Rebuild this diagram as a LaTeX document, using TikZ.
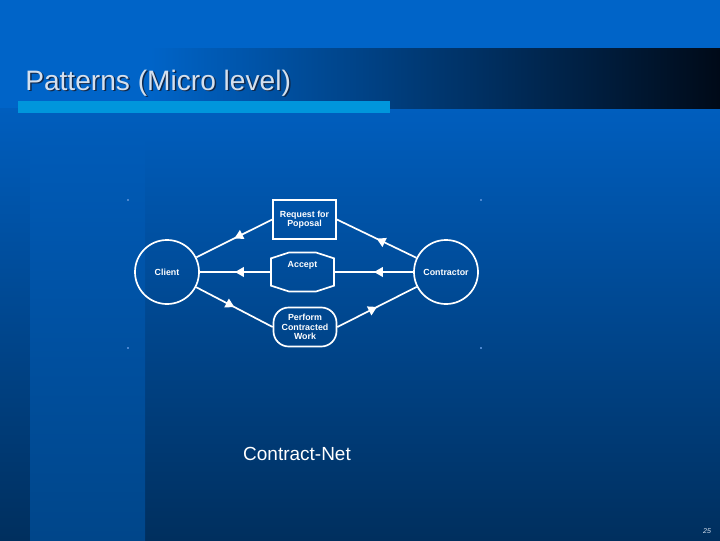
\documentclass[tikz,border=0pt]{standalone}
\usepackage{fontspec}
\setmainfont{Liberation Sans}
\usetikzlibrary{arrows.meta,shapes.misc,decorations.markings}
\definecolor{slidetop}{HTML}{0064C8}
\definecolor{slidemid}{HTML}{005EBE}
\definecolor{slidebot}{HTML}{002F5E}
\definecolor{columnbot}{HTML}{00468A}
\definecolor{titledark}{HTML}{000A18}
\definecolor{titlebar}{HTML}{0096DC}
\definecolor{titletext}{HTML}{D4E0EE}
\definecolor{titleshadow}{HTML}{10284A}
\definecolor{markgrey}{HTML}{4A86D0}
\tikzset{
  cnetagent/.style={draw=white, circle, line width=1.2pt, minimum size=1.6cm, inner sep=0pt, text=white, font=\fontsize{6.3}{7}\selectfont\bfseries},
  cnetbox/.style={draw=white, line width=1.2pt, minimum width=1.575cm, minimum height=0.975cm, inner sep=1pt, align=center, text=white, font=\fontsize{6.3}{6.8}\selectfont\bfseries},
  cnetaccept/.style={cnetbox, chamfered rectangle, chamfered rectangle xsep=0.07cm, chamfered rectangle angle=72},
  cnetwork/.style={cnetbox, rounded corners=0.38cm},
  cnetflow/.style={draw=white, line width=1.2pt, postaction={decorate},
    decoration={markings, mark=at position 0.5 with {\arrow{Triangle[length=2.2mm,width=2.4mm]}}}},
  cnetmark/.style={fill=markgrey, minimum size=2pt, inner sep=0pt}
}
\begin{document}
\begin{tikzpicture}[x=0.025cm, y=-0.025cm]
\useasboundingbox (0,0) rectangle (720,540);
% slide background
\fill[slidetop] (0,0) rectangle (720,48);
\shade[top color=slidemid, bottom color=slidebot] (0,108) rectangle (720,540);
\shade[top color=slidemid!93!slidebot, bottom color=columnbot] (30,140) rectangle (145,540);
\fill[slidetop] (0,48) rectangle (150,108);
\shade[left color=slidetop, right color=titledark] (150,48) rectangle (720,108);
\fill[titlebar] (18,101) rectangle (390,113);
\node[anchor=base west, inner sep=0pt, font=\fontsize{20}{24}\selectfont, text=titleshadow] (titleshade) at (26.5,91.5) {Patterns (Micro level)};
\node[anchor=base west, inner sep=0pt, font=\fontsize{20}{24}\selectfont, text=titletext] (title) at (25,90) {Patterns (Micro level)};

% picture frame marks
\node[cnetmark] (markA) at (128,200) {};
\node[cnetmark] (markB) at (481,200) {};
\node[cnetmark] (markC) at (128,348) {};
\node[cnetmark] (markD) at (481,348) {};

% contract net
\node[cnetagent] (client) at (167,272) {Client};
\node[cnetagent] (contractor) at (446,272) {Contractor};
\node[cnetbox] (request) at (304.5,219.5) {Request for\\Poposal};
\node[cnetaccept] (accept) at (302.5,272) {Accept\\[4pt]};
\node[cnetwork] (perform) at (305,327) {Perform\\Contracted\\Work};

\draw[cnetflow] (contractor) -- (request.east);
\draw[cnetflow] (request.west) -- (client);
\draw[cnetflow] (contractor) -- (accept);
\draw[cnetflow] (accept) -- (client);
\draw[cnetflow] (client) -- (perform.west);
\draw[cnetflow] (perform.east) -- (contractor);

\node[text=white, font=\fontsize{13.5}{16}\selectfont] (caption) at (297,454) {Contract-Net};
\node[text=titletext, font=\fontsize{5}{6}\selectfont\itshape] (pageno) at (707,531) {25};
\end{tikzpicture}
\end{document}
